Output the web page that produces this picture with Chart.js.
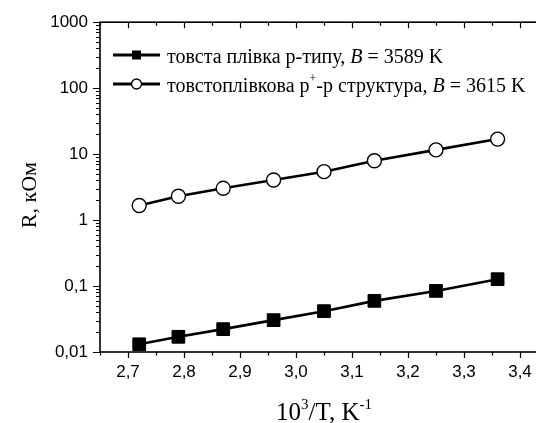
<!DOCTYPE html>
<html>
<head>
<meta charset="utf-8">
<script src="https://cdn.jsdelivr.net/npm/chart.js@4/dist/chart.umd.min.js"></script>
<style>
html,body{margin:0;padding:0;background:#fff;overflow:hidden;width:536px;height:423px;}
#wrap{width:560px;height:423px;}
</style>
</head>
<body>
<div id="wrap"><canvas id="c" width="560" height="423"></canvas></div>
<script>
// ---- data ----
const xValues = [2.72, 2.79, 2.87, 2.96, 3.05, 3.14, 3.25, 3.36];
const filmP = [0.0131, 0.0170, 0.0222, 0.0304, 0.0416, 0.0596, 0.0843, 0.127];
const structPP = [1.66, 2.30, 3.03, 4.06, 5.42, 7.94, 11.6, 16.9];
const xTicks = [2.7, 2.8, 2.9, 3.0, 3.1, 3.2, 3.3, 3.4];
const xTickLabels = ['2,7', '2,8', '2,9', '3,0', '3,1', '3,2', '3,3', '3,4'];
const yTicks = [0.01, 0.1, 1, 10, 100, 1000];
const yTickLabels = ['0,01', '0,1', '1', '10', '100', '1000'];
const legend1 = ['товста плівка р-типу, ', 'B', ' = 3589 K'];
const legend2 = ['товстоплівкова р', '+', '-р структура, ', 'B', ' = 3615 K'];
const xTitle = ['10', '3', '/T, K', '-1'];
const yTitle = 'R, кОм';

const toPts = ys => xValues.map((x, i) => ({x: x, y: ys[i]}));

const framePlugin = {
  id: 'frame',
  afterDatasetsDraw(chart) {
    const ctx = chart.ctx, a = chart.chartArea;
    const xs = chart.scales.x, ys = chart.scales.y;
    ctx.save();
    ctx.strokeStyle = '#000';
    ctx.lineWidth = 1.6;
    ctx.strokeRect(a.left, a.top, a.right - a.left, a.bottom - a.top);
    ctx.lineWidth = 1.2;
    ctx.beginPath();
    const xMin = [];
    for (let v = 2.65; v <= 3.451; v += 0.1) xMin.push(v);
    xTicks.forEach(v => {
      const p = Math.round(xs.getPixelForValue(v)) + 0.5;
      ctx.moveTo(p, a.bottom); ctx.lineTo(p, a.bottom + 6);
      ctx.moveTo(p, a.top); ctx.lineTo(p, a.top + 6);
    });
    xMin.forEach(v => {
      const p = Math.round(xs.getPixelForValue(v)) + 0.5;
      ctx.moveTo(p, a.bottom); ctx.lineTo(p, a.bottom + 3.5);
      ctx.moveTo(p, a.top); ctx.lineTo(p, a.top + 3.5);
    });
    yTicks.forEach(v => {
      const p = Math.round(ys.getPixelForValue(v)) + 0.5;
      ctx.moveTo(a.left, p); ctx.lineTo(a.left - 7, p);
      ctx.moveTo(a.right, p); ctx.lineTo(a.right - 7, p);
    });
    for (let d = 0; d < yTicks.length - 1; d++) {
      for (let m = 2; m <= 9; m++) {
        const p = Math.round(ys.getPixelForValue(yTicks[d] * m)) + 0.5;
        ctx.moveTo(a.left, p); ctx.lineTo(a.left - 4, p);
        ctx.moveTo(a.right, p); ctx.lineTo(a.right - 4, p);
      }
    }
    ctx.stroke();

    // axis titles
    ctx.fillStyle = '#000';
    ctx.textBaseline = 'alphabetic';
    const serif = '"Liberation Serif", "Times New Roman", serif';
    const big = '25px ' + serif;
    const sup = '15px ' + serif;
    ctx.font = big;
    const w0 = ctx.measureText(xTitle[0]).width;
    const w2 = ctx.measureText(xTitle[2]).width;
    ctx.font = sup;
    const w1 = ctx.measureText(xTitle[1]).width;
    const w3 = ctx.measureText(xTitle[3]).width;
    const total = w0 + w1 + w2 + w3;
    let cx = (a.left + a.right) / 2 - total / 2;
    const by = 420;
    ctx.font = big; ctx.fillText(xTitle[0], cx, by); cx += w0;
    ctx.font = sup; ctx.fillText(xTitle[1], cx, by - 11); cx += w1;
    ctx.font = big; ctx.fillText(xTitle[2], cx, by); cx += w2;
    ctx.font = sup; ctx.fillText(xTitle[3], cx, by - 11);

    ctx.save();
    ctx.translate(36, (a.top + a.bottom) / 2 + 8);
    ctx.rotate(-Math.PI / 2);
    ctx.font = '22px ' + serif;
    ctx.textAlign = 'center';
    ctx.fillText(yTitle, 0, 0);
    ctx.restore();

    // legend
    const lf = '20px ' + serif;
    const lfi = 'italic 20px ' + serif;
    const lsup = '12px ' + serif;
    const rows = [{y: 55, base: 63}, {y: 84, base: 92}];
    ctx.lineWidth = 2.8;
    rows.forEach((r, i) => {
      ctx.beginPath();
      ctx.moveTo(113, r.y); ctx.lineTo(160, r.y);
      ctx.stroke();
      if (i === 0) {
        ctx.fillStyle = '#000';
        ctx.fillRect(132, r.y - 4.5, 9, 9);
      } else {
        ctx.beginPath();
        ctx.arc(136.5, r.y, 5, 0, Math.PI * 2);
        ctx.fillStyle = '#fff'; ctx.fill();
        ctx.lineWidth = 1.3; ctx.strokeStyle = '#000'; ctx.stroke();
        ctx.lineWidth = 2.8;
      }
    });
    ctx.fillStyle = '#000';
    let tx = 167;
    const b1 = rows[0].base;
    ctx.font = lf; ctx.fillText(legend1[0], tx, b1); tx += ctx.measureText(legend1[0]).width;
    ctx.font = lfi; ctx.fillText(legend1[1], tx, b1); tx += ctx.measureText(legend1[1]).width;
    ctx.font = lf; ctx.fillText(legend1[2], tx, b1);
    tx = 167;
    const b2 = rows[1].base;
    ctx.font = lf; ctx.fillText(legend2[0], tx, b2); tx += ctx.measureText(legend2[0]).width;
    ctx.font = lsup; ctx.fillText(legend2[1], tx, b2 - 10); tx += ctx.measureText(legend2[1]).width;
    ctx.font = lf; ctx.fillText(legend2[2], tx, b2); tx += ctx.measureText(legend2[2]).width;
    ctx.font = lfi; ctx.fillText(legend2[3], tx, b2); tx += ctx.measureText(legend2[3]).width;
    ctx.font = lf; ctx.fillText(legend2[4], tx, b2);
    ctx.restore();
  }
};

new Chart(document.getElementById('c'), {
  type: 'scatter',
  data: {
    datasets: [
      {
        label: 'товста плівка р-типу, B = 3589 K',
        data: toPts(filmP),
        showLine: true,
        borderColor: '#000',
        borderWidth: 2.6,
        pointStyle: 'rect',
        pointRadius: 9,
        pointBackgroundColor: '#000',
        pointBorderColor: '#000',
        pointBorderWidth: 1,
        tension: 0
      },
      {
        label: 'товстоплівкова р+-р структура, B = 3615 K',
        data: toPts(structPP),
        showLine: true,
        borderColor: '#000',
        borderWidth: 2.6,
        pointStyle: 'circle',
        pointRadius: 7,
        pointBackgroundColor: '#fff',
        pointBorderColor: '#000',
        pointBorderWidth: 1.4,
        tension: 0
      }
    ]
  },
  options: {
    responsive: false,
    animation: false,
    devicePixelRatio: 1,
    layout: {padding: {top: 21, right: 12, left: 0, bottom: 0}},
    plugins: {legend: {display: false}, tooltip: {enabled: false}},
    scales: {
      x: {
        type: 'linear',
        min: 2.65,
        max: 3.45,
        afterFit: s => { s.height = 71; },
        afterBuildTicks: s => { s.ticks = xTicks.map(v => ({value: v})); },
        grid: {display: false, drawTicks: false, tickLength: 0},
        border: {display: false},
        ticks: {
          padding: 10,
          color: '#000',
          font: {family: '"Liberation Sans", Arial, sans-serif', size: 17},
          maxRotation: 0,
          autoSkip: false,
          callback: (v, i) => xTickLabels[i]
        }
      },
      y: {
        type: 'logarithmic',
        min: 0.01,
        max: 1000,
        afterFit: s => { s.width = 100; },
        afterBuildTicks: s => { s.ticks = yTicks.map(v => ({value: v})); },
        grid: {display: false, drawTicks: false, tickLength: 0},
        border: {display: false},
        ticks: {
          padding: 12,
          color: '#000',
          font: {family: '"Liberation Sans", Arial, sans-serif', size: 17},
          autoSkip: false,
          callback: (v, i) => yTickLabels[i]
        }
      }
    }
  },
  plugins: [framePlugin]
});
</script>
</body>
</html>
